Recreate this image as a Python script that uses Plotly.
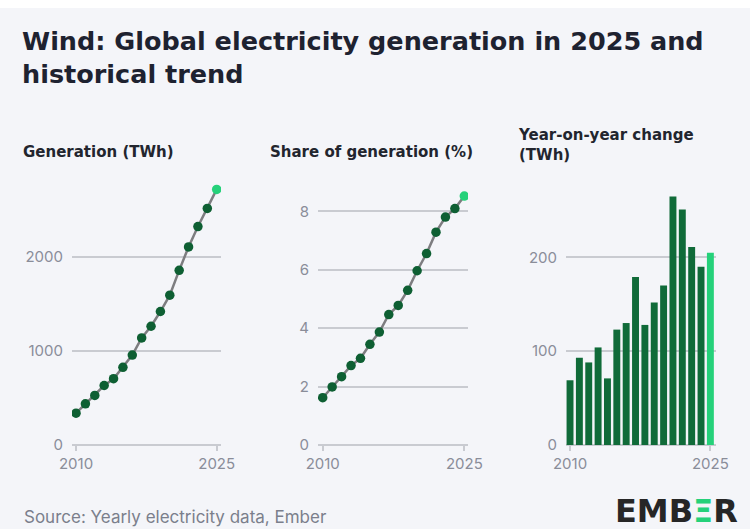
import plotly.graph_objects as go

years = list(range(2010, 2026))
generation_twh = [338, 438, 527, 633, 705, 826, 957, 1139, 1263, 1420, 1594, 1858, 2107, 2324, 2516, 2719]
share_pct = [1.62, 1.99, 2.34, 2.72, 2.97, 3.45, 3.87, 4.47, 4.78, 5.30, 5.97, 6.56, 7.29, 7.81, 8.10, 8.53]
yoy_change_twh = [69, 93, 88, 104, 71, 123, 130, 179, 128, 152, 170, 265, 251, 211, 190, 205]

gen_ticks = [0, 1000, 2000]
share_ticks = [0, 2, 4, 6, 8]
yoy_ticks = [0, 100, 200]
year_ticks = [2010, 2025]

DARK = "#0e5f33"
BRIGHT = "#25d17a"
BAR_DARK = "#106b39"
LINE = "#7d7d80"
GRID = "#c9cbd1"
TICK_FONT = dict(family="Inter, Lato, sans-serif", size=15, color="#8a8d99")
BG = "#f4f5f9"

W, H = 750, 529

def xd(a, b):
    return [a / W, b / W]

def yd(top, bottom):
    return [1 - bottom / H, 1 - top / H]

marker_colors = [DARK] * (len(years) - 1) + [BRIGHT]
bar_colors = [BAR_DARK] * (len(years) - 1) + [BRIGHT]

fig = go.Figure()
fig.add_trace(go.Scatter(x=years, y=generation_twh, mode="lines+markers",
                         line=dict(color=LINE, width=2.5),
                         marker=dict(color=marker_colors, size=9.5),
                         xaxis="x", yaxis="y", showlegend=False))
fig.add_trace(go.Scatter(x=years, y=share_pct, mode="lines+markers",
                         line=dict(color=LINE, width=2.5),
                         marker=dict(color=marker_colors, size=9.5),
                         xaxis="x2", yaxis="y2", showlegend=False))
fig.add_trace(go.Bar(x=years, y=yoy_change_twh, marker=dict(color=bar_colors, line=dict(width=0)),
                     width=0.74, xaxis="x3", yaxis="y3", showlegend=False))

top, bottom = 175, 445

def xaxis(dom, rng, anchor):
    return dict(domain=xd(*dom), range=rng, anchor=anchor, tickvals=year_ticks,
                ticks="outside", ticklen=5, tickcolor=GRID, tickwidth=1.5,
                showgrid=False, zeroline=False, showline=False, automargin=False,
                tickfont=TICK_FONT, fixedrange=True)

def yaxis(rng, tv, anchor):
    return dict(domain=yd(top, bottom), range=rng, anchor=anchor, tickvals=tv,
                showgrid=True, gridcolor=GRID, gridwidth=1.5,
                zeroline=True, zerolinecolor=GRID, zerolinewidth=1.5,
                showline=False, ticks="", tickfont=TICK_FONT, automargin=False,
                ticklabelstandoff=8, fixedrange=True)

fig.update_layout(
    width=W, height=H,
    margin=dict(l=0, r=0, t=0, b=0, pad=0),
    paper_bgcolor=BG, plot_bgcolor=BG,
    font=dict(family="Inter, Lato, sans-serif"),
    xaxis=xaxis((72, 221), [2009.57, 2025.46], "y"),
    yaxis=yaxis([0, 2872], gen_ticks, "x"),
    xaxis2=xaxis((318, 468), [2009.5, 2025.39], "y2"),
    yaxis2=yaxis([0, 9.25], share_ticks, "x2"),
    xaxis3=xaxis((566, 716), [2009.57, 2025.6], "y3"),
    yaxis3=yaxis([0, 287.8], yoy_ticks, "x3"),
    bargap=0.2,
    shapes=[dict(type="rect", xref="paper", yref="paper", x0=0, x1=1, y0=1 - 8 / H, y1=1,
                 fillcolor="#ffffff", line=dict(width=0), layer="below")],
)

title_font = dict(family="DejaVu Sans, sans-serif", size=25.5, color="#1e2230")
fig.add_annotation(x=20 / W, y=1 - 24 / H, xref="paper", yref="paper", xanchor="left", yanchor="top",
                   align="left", showarrow=False,
                   text="<b>Wind: Global electricity generation in 2025 and<br>historical trend</b>",
                   font=title_font)

sub_font = dict(family="DejaVu Sans, sans-serif", size=15, color="#22252e")
for xp, yp, txt in [(21, 152, "Generation (TWh)"), (268, 152, "Share of generation (%)")]:
    fig.add_annotation(x=xp / W, y=1 - yp / H, xref="paper", yref="paper", xanchor="left", yanchor="middle",
                       showarrow=False, text=f"<b>{txt}</b>", font=sub_font)
fig.add_annotation(x=516 / W, y=1 - 124 / H, xref="paper", yref="paper", xanchor="left", yanchor="top",
                   align="left", showarrow=False, text="<b>Year-on-year change<br>(TWh)</b>", font=sub_font)

fig.add_annotation(x=22 / W, y=1 - 517 / H, xref="paper", yref="paper", xanchor="left", yanchor="middle",
                   showarrow=False, text="Source: Yearly electricity data, Ember",
                   font=dict(family="Inter, sans-serif", size=17, color="#7b7f8c"))
fig.add_annotation(x=740 / W, y=1 - 511 / H, xref="paper", yref="paper", xanchor="right", yanchor="middle",
                   showarrow=False,
                   text=f"<b>EMB<span style='color:{BRIGHT}'>Ξ</span>R</b>",
                   font=dict(family="DejaVu Sans, sans-serif", size=32, color="#262626"))

fig.write_html("out.html", config={"displayModeBar": False},
               post_script="document.body.style.margin='0';document.body.style.background='#f4f5f9';")
